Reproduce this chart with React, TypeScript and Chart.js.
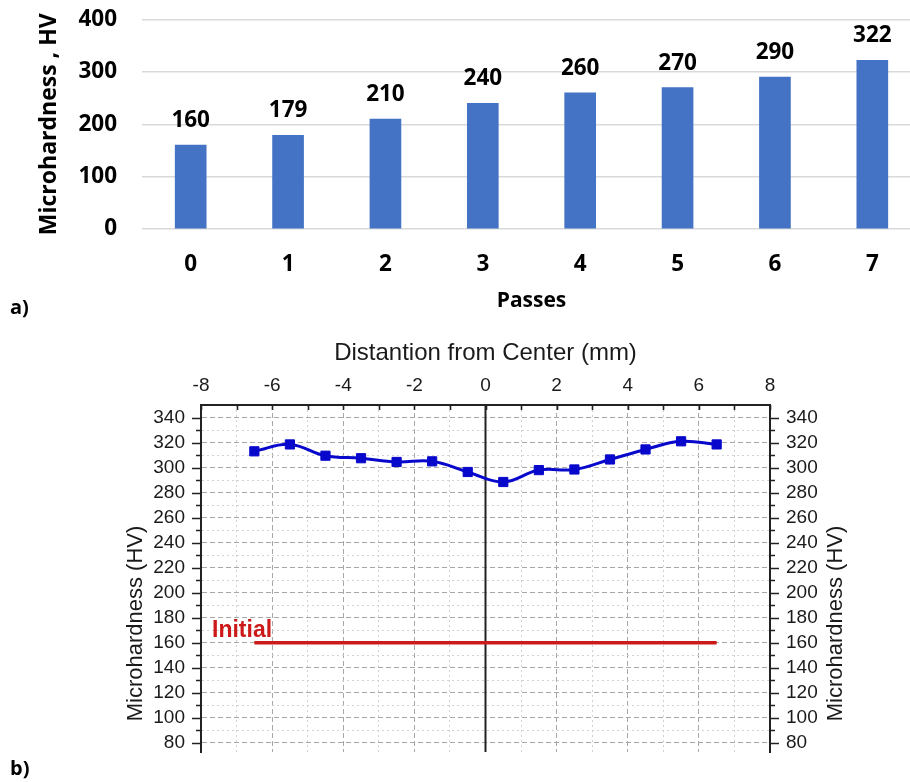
import React, { useEffect, useRef } from 'react';
import { Chart, registerables } from 'chart.js';

Chart.register(...registerables);

// ---- data: chart a) ----
const passLabels = ['0', '1', '2', '3', '4', '5', '6', '7'];
const passHardness = [160, 179, 210, 240, 260, 270, 290, 322];

// ---- data: chart b) ----
const distanceMm = [-6.5, -5.5, -4.5, -3.5, -2.5, -1.5, -0.5, 0.5, 1.5, 2.5, 3.5, 4.5, 5.5, 6.5];
const profileHardness = [313, 318.5, 309.5, 307.5, 304.5, 305, 296.5, 288.5, 298, 298.5, 306.5, 314.5, 321, 318.5];
const initialX = [-6.5, 6.5];
const initialHardness = [160, 160];
const hvAxisTicks = [80, 90, 100, 110, 120, 130, 140, 150, 160, 170, 180, 190, 200, 210, 220, 230, 240, 250, 260, 270, 280, 290, 300, 310, 320, 330, 340];
const distTicks = [-8, -7, -6, -5, -4, -3, -2, -1, 0, 1, 2, 3, 4, 5, 6, 7, 8];

const OPEN = '"Open Sans", "DejaVu Sans", sans-serif';
const ARIAL = '"Liberation Sans", Arial, sans-serif';

const barLabelPlugin = {
  id: 'barLabels',
  afterDatasetsDraw(chart: any) {
    const ctx = chart.ctx;
    const meta = chart.getDatasetMeta(0);
    ctx.save();
    ctx.font = `bold 22.5px ${OPEN}`;
    ctx.fillStyle = '#000';
    ctx.textAlign = 'center';
    ctx.textBaseline = 'alphabetic';
    meta.data.forEach((bar: any, i: number) => {
      ctx.fillText(String(passHardness[i]), bar.x, bar.y - 18);
    });
    ctx.restore();
  },
};

const profileDecorPlugin = {
  id: 'profileDecor',
  beforeDatasetsDraw(chart: any) {
    const { ctx, chartArea, scales } = chart;
    const x0 = scales.x.getPixelForValue(0);
    ctx.save();
    ctx.strokeStyle = '#222';
    ctx.lineWidth = 2;
    ctx.beginPath();
    ctx.moveTo(x0, chartArea.top);
    ctx.lineTo(x0, chartArea.bottom);
    ctx.stroke();
    ctx.restore();
  },
  afterDraw(chart: any) {
    const { ctx, chartArea, scales } = chart;
    const y = scales.y;
    const x = scales.x;
    ctx.save();
    ctx.strokeStyle = '#222';
    ctx.lineWidth = 1.6;
    ctx.beginPath();
    hvAxisTicks.forEach((v) => {
      const py = Math.round(y.getPixelForValue(v)) + 0.5;
      const len = v % 20 === 0 ? 9 : 5;
      ctx.moveTo(chartArea.left - len, py);
      ctx.lineTo(chartArea.left, py);
      ctx.moveTo(chartArea.right, py);
      ctx.lineTo(chartArea.right + len, py);
    });
    distTicks.forEach((v) => {
      const px = Math.round(x.getPixelForValue(v)) + 0.5;
      ctx.moveTo(px, chartArea.top);
      ctx.lineTo(px, chartArea.top + 5);
    });
    ctx.stroke();

    // y-axis titles (both read bottom-to-top)
    ctx.fillStyle = '#1a1a1a';
    ctx.font = `22px ${ARIAL}`;
    ctx.textAlign = 'center';
    ctx.textBaseline = 'middle';
    const cy = (chartArea.top + chartArea.bottom) / 2 + 45;
    [chartArea.left - 65, chartArea.right + 66].forEach((tx) => {
      ctx.save();
      ctx.translate(tx, cy);
      ctx.rotate(-Math.PI / 2);
      ctx.fillText('Microhardness (HV)', 0, 0);
      ctx.restore();
    });

    // "Initial" label
    ctx.fillStyle = '#cc1a1a';
    ctx.font = `bold 23px ${ARIAL}`;
    ctx.textAlign = 'left';
    ctx.textBaseline = 'alphabetic';
    ctx.fillText('Initial', chartArea.left + 11, y.getPixelForValue(initialHardness[0]) - 6);
    ctx.restore();
  },
};

export default function App() {
  const barRef = useRef<HTMLCanvasElement>(null);
  const lineRef = useRef<HTMLCanvasElement>(null);

  useEffect(() => {
    const boldFont = { family: OPEN, size: 22.5, weight: 'bold' as const };
    const barChart = new Chart(barRef.current as HTMLCanvasElement, {
      type: 'bar',
      data: {
        labels: passLabels,
        datasets: [
          {
            data: passHardness,
            backgroundColor: '#4472C4',
            barThickness: 31,
          },
        ],
      },
      options: {
        responsive: false,
        animation: false,
        devicePixelRatio: 1,
        layout: { padding: 0 },
        plugins: { legend: { display: false }, tooltip: { enabled: false } },
        scales: {
          x: {
            grid: { display: false, drawTicks: false },
            border: { display: false },
            ticks: { font: boldFont, color: '#000', padding: 22 },
            title: {
              display: true,
              text: 'Passes',
              color: '#000',
              font: { family: OPEN, size: 21, weight: 'bold' },
              padding: { top: 0, bottom: 6 },
            },
            afterFit: (s: any) => {
              s.height = 91;
            },
          },
          y: {
            min: 0,
            max: 400,
            ticks: { stepSize: 100, font: boldFont, color: '#000', padding: 25 },
            grid: { color: '#d9d9d9', lineWidth: 1.5, drawTicks: false },
            border: { display: false },
            title: {
              display: true,
              text: 'Microhardness , HV',
              color: '#000',
              font: { family: OPEN, size: 23, weight: 'bold' },
              padding: { top: 36, bottom: 0 },
            },
            afterFit: (s: any) => {
              s.width = 142;
            },
          },
        },
      },
      plugins: [barLabelPlugin],
    } as any);

    const tickFont = { family: ARIAL, size: 19 };
    const gridColor = (c: any) =>
      c.tick && c.tick.value % (c.scale.axis === 'x' ? 2 : 20) === 0 ? '#a8a8a8' : '#d2d2d2';
    const gridDash = (c: any) =>
      c.tick && c.tick.value % (c.scale.axis === 'x' ? 2 : 20) === 0 ? [5, 3] : [2, 3];

    const lineChart = new Chart(lineRef.current as HTMLCanvasElement, {
      type: 'line',
      data: {
        datasets: [
          {
            data: distanceMm.map((d, i) => ({ x: d, y: profileHardness[i] })),
            borderColor: '#0808cc',
            backgroundColor: '#0808cc',
            borderWidth: 3,
            pointStyle: 'rect',
            pointRadius: 6.5,
            pointBorderWidth: 1,
            tension: 0.4,
            xAxisID: 'x',
            yAxisID: 'y',
          },
          {
            data: initialX.map((d, i) => ({ x: d, y: initialHardness[i] })),
            borderColor: '#cc1a1a',
            borderWidth: 3.5,
            pointRadius: 0,
            xAxisID: 'x',
            yAxisID: 'y',
          },
        ],
      },
      options: {
        responsive: false,
        animation: false,
        devicePixelRatio: 1,
        layout: { padding: 0 },
        plugins: { legend: { display: false }, tooltip: { enabled: false } },
        scales: {
          x: {
            type: 'linear',
            position: 'bottom',
            min: -8,
            max: 8,
            ticks: { display: false, stepSize: 1 },
            grid: { drawTicks: false, color: gridColor, lineWidth: 1 },
            border: { display: false, dash: gridDash },
            afterFit: (s: any) => {
              s.height = 30;
            },
          },
          x2: {
            type: 'linear',
            position: 'top',
            min: -8,
            max: 8,
            ticks: { stepSize: 2, font: tickFont, color: '#1a1a1a', padding: 8 },
            grid: { display: false, drawTicks: false },
            border: { display: true, color: '#222', width: 2 },
            title: {
              display: true,
              text: 'Distantion from Center (mm)',
              color: '#1a1a1a',
              font: { family: ARIAL, size: 24 },
              padding: { top: 9, bottom: 0 },
            },
            afterFit: (s: any) => {
              s.height = 75;
            },
          },
          y: {
            type: 'linear',
            position: 'left',
            min: 72.8,
            max: 350,
            afterBuildTicks: (s: any) => {
              s.ticks = hvAxisTicks.map((v) => ({ value: v }));
            },
            ticks: {
              autoSkip: false,
              font: tickFont,
              color: '#1a1a1a',
              padding: 16,
              callback: (v: any) => (Number(v) % 20 === 0 ? String(v) : ''),
            },
            grid: { drawTicks: false, color: gridColor, lineWidth: 1 },
            border: { display: true, color: '#222', width: 2, dash: gridDash },
            afterFit: (s: any) => {
              s.width = 201;
            },
          },
          y2: {
            type: 'linear',
            position: 'right',
            min: 72.8,
            max: 350,
            afterBuildTicks: (s: any) => {
              s.ticks = hvAxisTicks.map((v) => ({ value: v }));
            },
            ticks: {
              autoSkip: false,
              font: tickFont,
              color: '#1a1a1a',
              padding: 16,
              callback: (v: any) => (Number(v) % 20 === 0 ? String(v) : ''),
            },
            grid: { display: false, drawTicks: false },
            border: { display: true, color: '#222', width: 2 },
            afterFit: (s: any) => {
              s.width = 140;
            },
          },
        },
      },
      plugins: [profileDecorPlugin],
    } as any);

    return () => {
      barChart.destroy();
      lineChart.destroy();
    };
  }, []);

  const labelStyle: React.CSSProperties = {
    position: 'absolute',
    fontFamily: OPEN,
    fontWeight: 'bold',
    fontSize: 20,
    color: '#000',
    lineHeight: '20px',
  };

  return (
    <div
      style={{
        position: 'fixed',
        left: 0,
        top: 0,
        width: 910,
        height: 782,
        overflow: 'hidden',
        background: '#fff',
      }}
    >
      <canvas
        ref={barRef}
        width={921}
        height={339}
        style={{ position: 'absolute', left: 0, top: -19, width: 921, height: 339 }}
      />
      <canvas
        ref={lineRef}
        width={910}
        height={452}
        style={{ position: 'absolute', left: 0, top: 330, width: 910, height: 452 }}
      />
      <span style={{ ...labelStyle, left: 10, top: 297 }}>a)</span>
      <span style={{ ...labelStyle, left: 10, top: 758 }}>b)</span>
    </div>
  );
}
